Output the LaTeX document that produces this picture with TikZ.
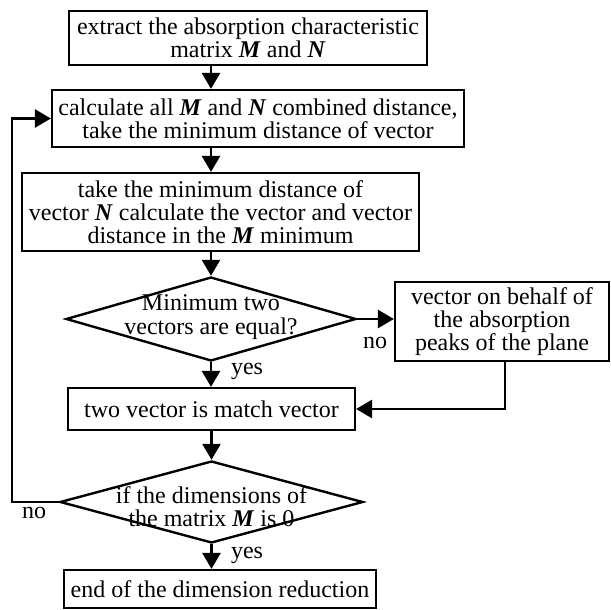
\documentclass[tikz,border=0pt]{standalone}
\usepackage{fontspec}
\setmainfont{Liberation Serif}
\usetikzlibrary{shapes.geometric,arrows.meta}
\newcommand{\vM}{\textbf{\textit{M}}}
\newcommand{\vN}{\textbf{\textit{N}}}
\begin{document}
\begin{tikzpicture}[x=1pt,y=-1pt,
  every node/.style={font=\fontsize{24}{23.3}\selectfont},
  boxnode/.style={draw, line width=2.2pt, inner sep=0pt, align=center},
  dianode/.style={draw, diamond, line width=2.4pt, inner sep=0pt},
  txtnode/.style={inner sep=0pt, align=center},
  lbl/.style={inner sep=0pt},
  arr/.style={line width=2.6pt, -{Triangle[width=18pt,length=16pt]}}
]
\useasboundingbox (0,0) rectangle (611,610);
\fill[white] (0,0) rectangle (611,610);

\node[boxnode, minimum width=358pt, minimum height=54pt] (b1) at (248,38)
  {extract the absorption characteristic\\matrix \vM{} and \vN};
\node[boxnode, minimum width=412pt, minimum height=57pt] (b2) at (258,118.5)
  {calculate all \vM{} and \vN{} combined distance,\\take the minimum distance of vector};
\node[boxnode, minimum width=397pt, minimum height=78pt] (b3) at (220.5,212)
  {take the minimum distance of\\vector \vN{} calculate the vector and vector\\distance in the \vM{} minimum};
\node[dianode, minimum width=290pt, minimum height=84pt] (d1) at (211,319) {};
\node[txtnode] (t1) at (211,317) {Minimum two\\vectors are equal?};
\node[boxnode, minimum width=214pt, minimum height=79pt] (b4) at (502,321.5)
  {vector on behalf of\\the absorption\\peaks of the plane};
\node[boxnode, minimum width=287pt, minimum height=42pt] (b5) at (211.5,409)
  {two vector is match vector};
\node[dianode, minimum width=303pt, minimum height=82pt] (d2) at (211.5,502) {};
\node[txtnode] (t2) at (211.5,507) {if the dimensions of\\the matrix \vM{} is 0};
\node[boxnode, minimum width=312pt, minimum height=38pt] (b6) at (220,589)
  {end of the dimension reduction};

\coordinate (c1) at (505,409);
\coordinate (fb) at (12,502);

\draw[arr] (b1.south -| d1) -- (b2.north -| d1);
\draw[arr] (b2.south -| d1) -- (b3.north -| d1);
\draw[arr] (b3.south -| d1) -- (d1.north);
\draw[arr] (d1.east) -- (d1.east -| b4.west);
\draw[arr] (d1.south) -- (b5.north -| d1);
\draw[arr] (c1 |- b4.south) |- (b5.east);
\draw[arr] (b5.south -| d2) -- (d2.north);
\draw[arr] (d2.south) -- (b6.north -| d2);
\draw[arr] (d2.west) -- (fb) |- (b2.west);

\node[lbl] (no1) at (375,343) {no};
\node[lbl] (yes1) at (247,371) {yes};
\node[lbl] (no2) at (34,513) {no};
\node[lbl] (yes2) at (247,555) {yes};
\end{tikzpicture}
\end{document}
